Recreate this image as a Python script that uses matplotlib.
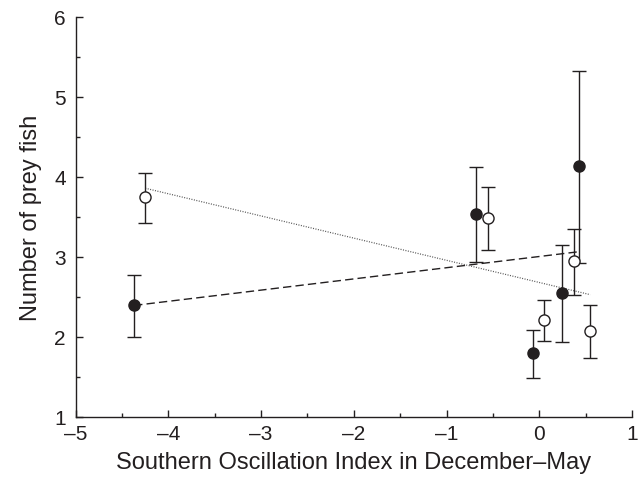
import numpy as np
import matplotlib
matplotlib.use('Agg')
from matplotlib import pyplot as plt
from matplotlib.ticker import MultipleLocator

# filled circles
soi_filled = [-4.37, -0.68, -0.07, 0.25, 0.43]
fish_filled = [2.39, 3.53, 1.79, 2.55, 4.13]
err_filled_lo = [0.39, 0.60, 0.31, 0.62, 1.21]
err_filled_hi = [0.38, 0.59, 0.29, 0.60, 1.19]

# open circles
soi_open = [-4.25, -0.55, 0.05, 0.37, 0.55]
fish_open = [3.74, 3.48, 2.21, 2.95, 2.07]
err_open_lo = [0.32, 0.40, 0.26, 0.43, 0.34]
err_open_hi = [0.31, 0.39, 0.25, 0.40, 0.32]

ink = '#231f20'
plt.rcParams['font.family'] = ['Liberation Sans', 'DejaVu Sans']

fig = plt.figure(figsize=(6.39, 4.85), dpi=100)
ax = fig.add_axes([0.1185, 0.1388, 0.8705, 0.8247])

# regression lines
p = np.polyfit(soi_filled, fish_filled, 1)
xs = np.array([min(soi_filled), max(soi_filled)])
ax.plot(xs, np.polyval(p, xs), color=ink, lw=1.0, dashes=(6, 3), zorder=2)
p = np.polyfit(soi_open, fish_open, 1)
xs = np.array([min(soi_open), max(soi_open)])
ax.plot(xs, np.polyval(p, xs), color='#555555', lw=0.9, dashes=(0.8, 1.2), zorder=2)

ax.errorbar(soi_filled, fish_filled, yerr=[err_filled_lo, err_filled_hi], fmt='o',
            color=ink, ms=8, mfc=ink, mec=ink, elinewidth=1.0, capsize=5, capthick=1.0, zorder=3)
ax.errorbar(soi_open, fish_open, yerr=[err_open_lo, err_open_hi], fmt='o',
            color=ink, ms=8, mfc='white', mec=ink, mew=1.0, elinewidth=1.0, capsize=5, capthick=1.0, zorder=3)

ax.set_xlim(-5, 1)
ax.set_ylim(1, 6)
ax.xaxis.set_major_locator(MultipleLocator(1))
ax.xaxis.set_minor_locator(MultipleLocator(0.5))
ax.yaxis.set_major_locator(MultipleLocator(1))
ax.yaxis.set_minor_locator(MultipleLocator(0.5))
ax.xaxis.set_major_formatter(plt.FuncFormatter(lambda v, _: f'{v:g}'.replace('-', '\u2013')))
ax.tick_params(which='major', direction='in', length=5, width=1, colors=ink, labelsize=15, pad=5)
ax.tick_params(which='minor', direction='in', length=3.2, width=1, colors=ink)
ax.tick_params(axis='y', pad=7)

for side in ['top', 'right']:
    ax.spines[side].set_visible(False)
for side in ['left', 'bottom']:
    ax.spines[side].set_color(ink)
    ax.spines[side].set_linewidth(1)

ax.set_xlabel('Southern Oscillation Index in December\u2013May', fontsize=17, color=ink, labelpad=6)
ax.set_ylabel('Number of prey fish', fontsize=17, color=ink, labelpad=9)

fig.savefig('out.png', dpi=100)
